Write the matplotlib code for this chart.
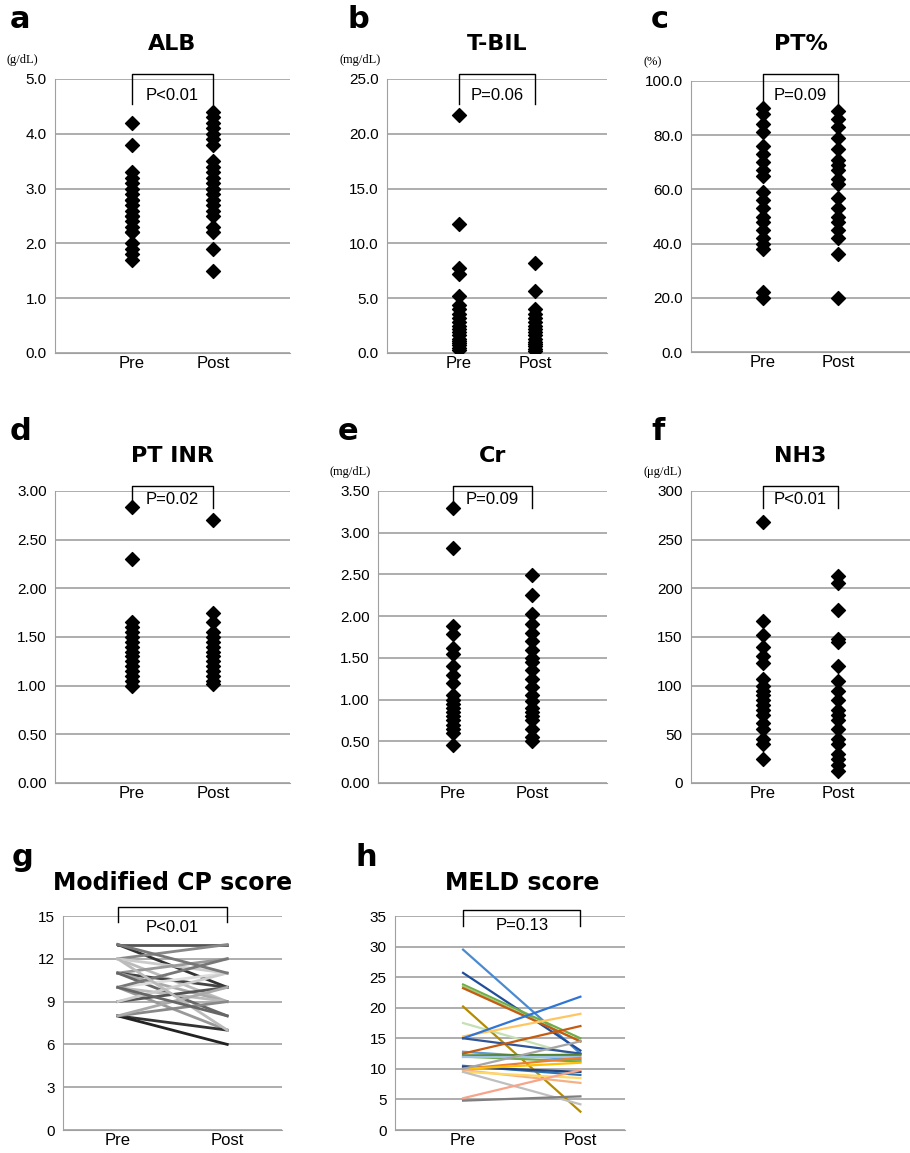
import matplotlib
matplotlib.use('Agg')
import matplotlib.pyplot as plt

W, H = 910, 1153

# ---- data ----
alb_pre = [4.2, 3.8, 3.3, 3.2, 3.1, 3.0, 2.9, 2.8, 2.8, 2.7, 2.6, 2.5, 2.5, 2.4, 2.3, 2.2, 2.2, 2.0, 1.9, 1.8, 1.7]
alb_post = [4.4, 4.3, 4.2, 4.1, 4.0, 3.9, 3.8, 3.5, 3.4, 3.3, 3.2, 3.1, 3.0, 3.0, 2.9, 2.8, 2.7, 2.6, 2.5, 2.3, 2.2, 1.9, 1.5]
tbil_pre = [21.7, 11.8, 7.8, 7.2, 5.2, 4.4, 4.0, 3.6, 3.2, 2.8, 2.5, 2.2, 1.9, 1.6, 1.3, 1.1, 0.9, 0.7, 0.5, 0.3]
tbil_post = [8.2, 5.7, 4.0, 3.6, 3.2, 2.8, 2.5, 2.2, 1.9, 1.6, 1.3, 1.0, 0.8, 0.6, 0.4, 0.2]
pt_pre = [90, 88, 84, 81, 76, 73, 70, 67, 65, 59, 56, 53, 50, 48, 45, 42, 40, 38, 22, 20]
pt_post = [89, 86, 83, 79, 75, 71, 69, 67, 64, 62, 57, 53, 50, 48, 45, 42, 36, 20]
inr_pre = [2.84, 2.30, 1.65, 1.60, 1.55, 1.50, 1.45, 1.40, 1.35, 1.30, 1.25, 1.20, 1.15, 1.10, 1.05, 1.00]
inr_post = [2.70, 1.75, 1.65, 1.55, 1.50, 1.45, 1.40, 1.35, 1.30, 1.25, 1.20, 1.15, 1.10, 1.05, 1.02]
cr_pre = [3.30, 2.82, 1.88, 1.78, 1.62, 1.55, 1.40, 1.30, 1.20, 1.05, 1.00, 0.95, 0.90, 0.85, 0.80, 0.75, 0.70, 0.65, 0.60, 0.45]
cr_post = [2.49, 2.25, 2.03, 1.90, 1.80, 1.70, 1.60, 1.50, 1.45, 1.35, 1.25, 1.15, 1.05, 0.98, 0.90, 0.85, 0.80, 0.75, 0.65, 0.55, 0.50]
nh3_pre = [268, 166, 152, 140, 130, 123, 107, 100, 95, 90, 85, 80, 75, 70, 62, 55, 45, 40, 25]
nh3_post = [213, 205, 178, 148, 145, 120, 105, 95, 85, 75, 70, 65, 55, 45, 40, 30, 25, 18, 12]

cp_pre = [13, 13, 12, 12, 12, 11, 11, 11, 11, 10, 10, 10, 10, 9, 9, 8, 8, 8, 8, 12, 13, 10]
cp_post = [13, 10, 13, 9, 11, 12, 10, 9, 8, 11, 12, 9, 7, 10, 11, 7, 6, 9, 10, 7, 11, 8]
cp_colors = ['#555555', '#333333', '#888888', '#bbbbbb', '#cccccc', '#999999', '#444444', '#aaaaaa',
             '#666666', '#dddddd', '#777777', '#bbbbbb', '#999999', '#555555', '#cccccc', '#333333',
             '#222222', '#888888', '#aaaaaa', '#bbbbbb', '#777777', '#666666']

meld_pre = [29.5, 25.7, 23.8, 23.5, 23.2, 20.2, 17.5, 15.3, 15.0, 15.0, 12.8, 12.5, 12.2, 12.0, 12.0,
            10.5, 10.3, 10.0, 10.0, 9.8, 9.5, 9.5, 10.0, 5.2, 4.8]
meld_post = [12.5, 13.0, 15.0, 14.5, 14.5, 3.0, 12.0, 19.0, 21.8, 12.5, 11.5, 17.0, 12.3, 11.2, 12.0,
             9.0, 9.5, 11.8, 11.0, 7.7, 8.5, 4.2, 14.5, 9.8, 5.5]
meld_colors = ['#4a8ad0', '#1f4e9a', '#70ad47', '#a0c878', '#c55a11', '#b58b00', '#c5e0b4', '#ffc561',
               '#2e75d6', '#2f5597', '#5b9bd5', '#c55a11', '#548235', '#70ad47', '#9dc3e6', '#2e75b6',
               '#264478', '#ed7d31', '#ffc000', '#f4b183', '#ffd966', '#bfbfbf', '#a5a5a5', '#f8a488',
               '#7f7f7f']

labels = ['Pre', 'Post']

fig = plt.figure(figsize=(W / 100, H / 100), dpi=100)
sans = ['Liberation Sans Narrow', 'Liberation Sans', 'DejaVu Sans']


def add_ax(box):
    x0, y0, x1, y1 = box
    return fig.add_axes([x0 / W, 1 - y1 / H, (x1 - x0) / W, (y1 - y0) / H])


def fy(box, y):
    # pixel row -> axes fraction
    return (box[3] - y) / (box[3] - box[1])


def fx(box, x):
    return (x - box[0]) / (box[2] - box[0])


def style(ax, ymax, step, fmt, xlim):
    ax.set_xlim(*xlim)
    ax.set_ylim(0, ymax)
    ticks = [i * step for i in range(int(round(ymax / step)) + 1)]
    ax.set_yticks(ticks)
    ax.set_yticklabels([fmt.format(t) for t in ticks], family=sans, fontsize=11)
    ax.set_xticks([1, 2])
    ax.set_xticklabels(labels, family=sans, fontsize=12)
    ax.grid(axis='y', color='#a0a0a0', linewidth=1.2)
    ax.set_axisbelow(True)
    for s in ['top', 'right']:
        ax.spines[s].set_visible(False)
    ax.spines['left'].set_color('#a0a0a0')
    ax.spines['bottom'].set_color('#a0a0a0')
    ax.tick_params(length=0)
    ax.tick_params(axis='x', pad=2)
    ax.tick_params(axis='y', pad=6)


def annotate(ax, box, xlim, title, title_y, title_fs, br_top, br_drop, ptxt, p_y,
             letter, letter_xy, unit=None, unit_xy=None):
    tr = ax.transAxes
    x1 = (1 - xlim[0]) / (xlim[1] - xlim[0])
    x2 = (2 - xlim[0]) / (xlim[1] - xlim[0])
    yt, yd = fy(box, br_top), fy(box, br_drop)
    ax.plot([x1, x1, x2, x2], [yd, yt, yt, yd], color='black', lw=1, transform=tr, clip_on=False)
    ax.text((x1 + x2) / 2, fy(box, p_y), ptxt, transform=tr, ha='center', va='center',
            family=sans, fontsize=12)
    ax.text((x1 + x2) / 2, fy(box, title_y), title, transform=tr, ha='center', va='center',
            fontsize=title_fs, fontweight='bold')
    ax.text(fx(box, letter_xy[0]), fy(box, letter_xy[1]), letter, transform=tr,
            ha='left', va='center', fontsize=22, fontweight='bold')
    if unit:
        ax.text(fx(box, unit_xy[0]), fy(box, unit_xy[1]), unit, transform=tr, ha='left',
                va='center', family='Liberation Serif', fontsize=9)


XL = (0.05, 2.95)


def scatter_panel(box, pre, post, ymax, step, fmt, title, letter, unit, ptxt, row_top):
    ax = add_ax(box)
    style(ax, ymax, step, fmt, XL)
    ax.scatter([1] * len(pre), pre, marker='D', s=50, color='black', zorder=3)
    ax.scatter([2] * len(post), post, marker='D', s=50, color='black', zorder=3)
    annotate(ax, box, XL, title, row_top + 24, 16, row_top + 54, row_top + 84 if row_top < 100 else row_top + 76,
             ptxt, row_top + 76 if row_top < 100 else row_top + 68,
             letter, (box[0] - 45 + (0 if box[0] < 100 else 5), row_top), unit, (box[0] - 48, box[1] - 19))
    return ax


# row 1 (letters at y ~20)
scatter_panel((55, 79, 290, 353), alb_pre, alb_post, 5.0, 1.0, '{:.1f}', 'ALB', 'a', '(g/dL)', 'P<0.01', 20)
scatter_panel((387, 79, 607, 353), tbil_pre, tbil_post, 25.0, 5.0, '{:.1f}', 'T-BIL', 'b', '(mg/dL)', 'P=0.06', 20)
scatter_panel((691, 81, 910, 352), pt_pre, pt_post, 100.0, 20.0, '{:.1f}', 'PT%', 'c', '(%)', 'P=0.09', 20)

# row 2 (letters at y ~430)
scatter_panel((55, 491, 290, 783), inr_pre, inr_post, 3.0, 0.5, '{:.2f}', 'PT INR', 'd', None, 'P=0.02', 432)
scatter_panel((378, 491, 607, 783), cr_pre, cr_post, 3.5, 0.5, '{:.2f}', 'Cr', 'e', '(mg/dL)', 'P=0.09', 432)
scatter_panel((691, 491, 910, 783), nh3_pre, nh3_post, 300, 50, '{:.0f}', 'NH3', 'f', '(\u03bcg/dL)', 'P<0.01', 432)

# row 3: g
box_g = (63, 916, 282, 1130)
xl_g = (0.5, 2.5)
ax = add_ax(box_g)
style(ax, 15, 3, '{:.0f}', xl_g)
for a, b, c in zip(cp_pre, cp_post, cp_colors):
    ax.plot([1, 2], [a, b], color=c, lw=2)
annotate(ax, box_g, xl_g, 'Modified CP score', 883, 17, 907, 922, 'P<0.01', 927, 'g', (12, 858))

# h
box_h = (395, 916, 625, 1130)
xl_h = (0.42, 2.38)
ax = add_ax(box_h)
style(ax, 35, 5, '{:.0f}', xl_h)
for a, b, c in zip(meld_pre, meld_post, meld_colors):
    ax.plot([1, 2], [a, b], color=c, lw=1.6)
annotate(ax, box_h, xl_h, 'MELD score', 883, 17, 910, 926, 'P=0.13', 926, 'h', (356, 858))

fig.savefig('out.png', dpi=100, facecolor='white')
